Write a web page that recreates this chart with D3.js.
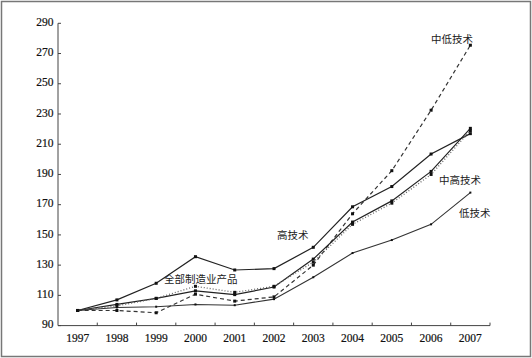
<!DOCTYPE html>
<html><head><meta charset="utf-8">
<script src="https://cdn.jsdelivr.net/npm/d3@7"></script>
<style>body{margin:0;background:#fff;}svg{display:block;}</style>
</head><body>
<svg id="c" width="532" height="358"></svg>
<script>
const years = ["1997","1998","1999","2000","2001","2002","2003","2004","2005","2006","2007"];
const yTicks = [90,110,130,150,170,190,210,230,250,270,290];
const highTech = [100,107,118,135.6,126.8,127.7,141.8,168.6,182,203.5,217];
const midLowTech = [100,100,98.5,110.8,106.2,109,130,164,192.5,232.5,275.5];
const midHighTech = [100,104,108,113,110.5,115.5,134,158.5,172.5,192,220.5];
const allMfg = [100,103,108,116,112,116,132,157,171,190,219];
const lowTech = [100,102,102.5,104,103.5,107.5,122,138,146.6,157,178];

const series = [
  {name:"高技术", values:highTech, dash:null, color:"#222", w:1.2, m:3, lx:277, ly:236},
  {name:"中低技术", values:midLowTech, dash:"4,3", color:"#333", w:1.2, m:3, lx:431, ly:40},
  {name:"中高技术", values:midHighTech, dash:null, color:"#222", w:1.2, m:3, lx:439, ly:181},
  {name:"全部制造业产品", values:allMfg, dash:"1,2", color:"#666", w:1.3, m:3, lx:164, ly:280},
  {name:"低技术", values:lowTech, dash:null, color:"#333", w:1.1, m:2, lx:459, ly:214}
];

const svg = d3.select("#c");
svg.append("rect").attr("x",1.5).attr("y",1.5).attr("width",529).attr("height",355)
  .attr("fill","none").attr("stroke","#777").attr("stroke-width",1.5);

const x = d3.scaleBand().domain(years).range([58,490]);
const y = d3.scaleLinear().domain([90,290]).range([325.6,23.3]);

const gx = svg.append("g").attr("transform","translate(0,325.6)");
gx.append("line").attr("x1",58).attr("x2",490).attr("stroke","#444");
const bounds = years.slice(1).map(d=>x(d)).concat([490]);
gx.selectAll("line.t").data(bounds).join("line").attr("class","t")
  .attr("x1",d=>d).attr("x2",d=>d).attr("y1",0).attr("y2",-3).attr("stroke","#444");
gx.selectAll("text").data(years).join("text")
  .attr("x",d=>x(d)+x.bandwidth()/2).attr("y",13.6)
  .attr("text-anchor","middle").attr("dominant-baseline","middle")
  .attr("font-family","Liberation Serif, serif").attr("font-size",11.5).attr("fill","#111")
  .attr("stroke","#111").attr("stroke-width",0.2)
  .text(d=>d);

const gy = svg.append("g");
gy.append("line").attr("x1",58).attr("x2",58).attr("y1",y(290)).attr("y2",y(90)).attr("stroke","#444");
gy.selectAll("line.t").data(yTicks).join("line").attr("class","t")
  .attr("x1",58).attr("x2",61).attr("y1",d=>y(d)).attr("y2",d=>y(d)).attr("stroke","#444");
gy.selectAll("text").data(yTicks).join("text")
  .attr("x",53.5).attr("y",d=>y(d))
  .attr("text-anchor","end").attr("dominant-baseline","middle")
  .attr("font-family","Liberation Serif, serif").attr("font-size",11.5).attr("fill","#111")
  .attr("stroke","#111").attr("stroke-width",0.2)
  .text(d=>d);

const line = d3.line().x((d,i)=>x(years[i])+x.bandwidth()/2).y(d=>y(d));

series.forEach(s=>{
  svg.append("path").attr("d",line(s.values)).attr("fill","none")
    .attr("stroke",s.color).attr("stroke-width",s.w)
    .attr("stroke-dasharray",s.dash);
  svg.append("g").selectAll("rect").data(s.values).join("rect")
    .attr("x",(d,i)=>x(years[i])+x.bandwidth()/2-s.m/2)
    .attr("y",d=>y(d)-s.m/2).attr("width",s.m).attr("height",s.m)
    .attr("fill","#111");
  svg.append("text").attr("x",s.lx).attr("y",s.ly)
    .attr("dominant-baseline","middle")
    .attr("font-family","Noto Sans CJK SC, sans-serif").attr("font-size",10.5)
    .attr("fill","#222").text(s.name);
});
</script>
</body></html>
